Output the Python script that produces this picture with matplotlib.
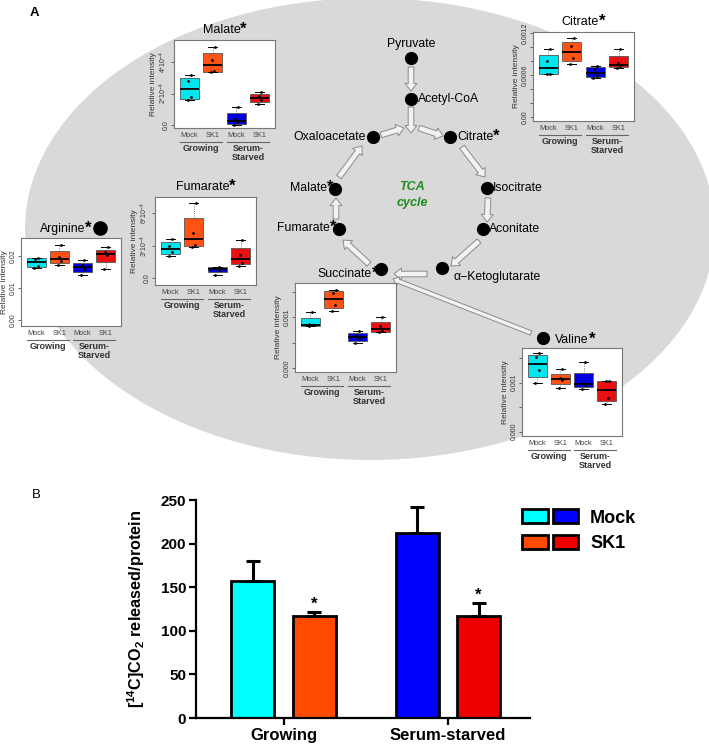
import matplotlib
matplotlib.use('Agg')
import matplotlib.pyplot as plt
import numpy as np
from matplotlib import font_manager
from matplotlib.patches import Ellipse, FancyArrowPatch, Patch
from matplotlib.legend_handler import HandlerTuple

installed = {f.name for f in font_manager.fontManager.ttflist}
narrow = 'Liberation Sans Narrow' if 'Liberation Sans Narrow' in installed else 'Liberation Sans'

plt.rcParams['font.family'] = ['Liberation Sans', 'DejaVu Sans']
plt.rcParams['mathtext.fontset'] = 'custom'
plt.rcParams['mathtext.rm'] = 'Liberation Sans'
plt.rcParams['mathtext.it'] = 'Liberation Sans:italic'
plt.rcParams['mathtext.bf'] = narrow + ':bold'

W, H = 709, 745

# ---- panel A: relative intensity, four replicates per group ----
groups = ['Mock', 'SK1', 'Mock', 'SK1']
conditions = ['Growing', 'Serum-\nStarved']
box_colors = ['#00E5EE', '#FF5214', '#0000DD', '#E81010']

malate = np.array([[1.57, 1.75, 2.80, 3.19],
                   [3.34, 3.44, 4.13, 4.97],
                   [0.00, 0.18, 0.38, 1.12],
                   [1.35, 1.62, 1.82, 2.10]]) * 1e-4
citrate = np.array([[6.1, 6.1, 8.0, 9.7],
                    [7.6, 8.4, 10.2, 11.3],
                    [5.5, 5.8, 6.9, 7.3],
                    [7.0, 7.3, 7.7, 9.8]]) * 1e-4
fumarate = np.array([[2.05, 2.41, 3.00, 3.67],
                     [2.94, 3.06, 4.20, 6.97],
                     [0.32, 0.80, 0.95, 1.09],
                     [1.15, 1.47, 2.17, 3.55]]) * 1e-4
arginine = np.array([[1.61, 1.69, 1.90, 1.95],
                     [1.71, 1.83, 1.96, 2.34],
                     [1.40, 1.60, 1.72, 1.86],
                     [1.58, 2.02, 2.12, 2.27]]) * 1e-2
succinate = np.array([[0.82, 0.84, 0.87, 1.10],
                      [1.13, 1.23, 1.47, 1.54],
                      [0.49, 0.59, 0.65, 0.73],
                      [0.71, 0.73, 0.82, 1.01]]) * 1e-3
valine = np.array([[0.99, 1.26, 1.52, 1.60],
                   [0.89, 1.05, 1.09, 1.28],
                   [0.87, 0.95, 0.99, 1.42],
                   [0.57, 0.69, 1.03, 1.03]]) * 1e-3

# ---- panel B: CO2 release ----
conds_b = ['Growing', 'Serum-starved']
mock_co2 = [157, 212]
mock_err = [23, 30]
sk1_co2 = [117, 117]
sk1_err = [5, 15]
mock_colors = ['#00FFFF', '#0000FF']
sk1_colors = ['#FF4A00', '#EE0000']


def fivenum(v):
    # Tukey hinges, as R's boxplot uses
    v = np.sort(v)
    n = len(v)
    n4 = np.floor((n + 3) / 2) / 2
    d = np.array([1, n4, (n + 1) / 2, n + 1 - n4, n]) - 1
    return 0.5 * (v[np.floor(d).astype(int)] + v[np.ceil(d).astype(int)])


def px_axes(x0, y0, x1, y1):
    return fig.add_axes([x0 / W, 1 - y1 / H, (x1 - x0) / W, (y1 - y0) / H])


def add_star(ax, t, size=12):
    ax.annotate('*', xy=(1.0, 0.2), xycoords=t, ha='left', va='baseline',
                fontsize=size, fontweight='bold')


def box_panel(rect, data, ylim, ticks, ticklabels, title=None):
    x0, y0, x1, y1 = rect
    h = y1 - y0
    ax = px_axes(*rect)
    stats = []
    for v in data:
        lo, q1, med, q3, hi = fivenum(v)
        stats.append(dict(whislo=lo, q1=q1, med=med, q3=q3, whishi=hi, fliers=[]))
    bp = ax.bxp(stats, positions=[1, 2, 3, 4], widths=0.8, patch_artist=True,
                showfliers=False, capwidths=0.4,
                boxprops=dict(edgecolor='#555555', linewidth=0.6),
                medianprops=dict(color='black', linewidth=1.3),
                whiskerprops=dict(color='#555555', linewidth=0.6, linestyle=':'),
                capprops=dict(color='black', linewidth=0.7))
    for patch, c in zip(bp['boxes'], box_colors):
        patch.set_facecolor(c)
    jitter = [-0.08, 0.06, -0.04, 0.08]
    for i, v in enumerate(data):
        ax.scatter(np.full(len(v), i + 1.0) + jitter[:len(v)], v, s=4,
                   color='black', zorder=4, linewidths=0)
    ax.set_xlim(0.34, 4.66)
    ax.set_ylim(*ylim)
    ax.set_xticks([])
    ax.set_yticks(ticks)
    ax.set_yticklabels(ticklabels)
    ax.tick_params(axis='y', labelsize=5, length=2.5, width=0.5, pad=0.8,
                   labelrotation=90, colors='#333333')
    for lab in ax.get_yticklabels():
        lab.set_va('center')
    for s in ax.spines.values():
        s.set_color('#777777')
        s.set_linewidth(0.8)
    ax.set_ylabel('Relative intensity', fontsize=6, labelpad=1, color='#333333')
    for i, g in enumerate(groups):
        ax.annotate(g, xy=(i + 1, 0), xycoords=('data', 'axes fraction'),
                    xytext=(0, -7.5), textcoords='offset pixels', ha='center',
                    va='center', fontsize=5.3, color='#444444')
    for k, c in enumerate(conditions):
        ax.plot([0.6 + 2 * k, 2.4 + 2 * k], [-13.5 / h] * 2, color='#666666',
                lw=0.8, transform=ax.get_xaxis_transform(), clip_on=False)
        ax.annotate(c, xy=(1.5 + 2 * k, 0), xycoords=('data', 'axes fraction'),
                    xytext=(0, -16), textcoords='offset pixels', ha='center',
                    va='top', fontsize=6.5, fontweight='bold', color='#333333',
                    linespacing=1.05)
    if title:
        t = ax.text(0.47, 1 + 10 / h, title, transform=ax.transAxes,
                    ha='center', va='center', fontsize=9)
        add_star(ax, t)
    return ax


fig = plt.figure(figsize=(W / 100, H / 100), dpi=100)

# ---- background diagram (pixel coordinates) ----
bg = fig.add_axes([0, 0, 1, 1])
bg.set_xlim(0, W)
bg.set_ylim(H, 0)
bg.axis('off')
bg.add_patch(Ellipse((370, 229), 690, 462, fc='#d9d9d9', ec='none'))
bg.text(30, 13, 'A', fontsize=9.5, fontweight='bold', va='center')
bg.text(32, 495, 'B', fontsize=9.5, va='center')


def block_arrow(p0, p1, scale=9):
    bg.add_patch(FancyArrowPatch(
        p0, p1, arrowstyle='simple,head_length=0.6,head_width=0.95,tail_width=0.45',
        mutation_scale=scale, fc='#f2f2f2', ec='#8a8a8a', lw=0.7,
        shrinkA=0, shrinkB=0))


arrows = [((411, 67), (411, 91)), ((411, 107), (411, 133)),
          ((381, 135), (404, 128)), ((419, 128), (443, 136)),
          ((462, 147), (485, 177)), ((488, 198), (487, 222)),
          ((479, 241), (451, 266)), ((427, 274), (394, 274)),
          ((369, 264), (343, 240)), ((336, 219), (336, 198)),
          ((339, 177), (362, 146))]
for p0, p1 in arrows:
    block_arrow(p0, p1)
block_arrow((531, 333), (393, 279), scale=7)

nodes = {'Pyruvate': (411, 58), 'Acetyl-CoA': (411, 99), 'Oxaloacetate': (373, 137),
         'Citrate': (450, 137), 'Isocitrate': (487, 188), 'Aconitate': (483, 229),
         'aKG': (442, 268), 'Succinate': (381, 269), 'Fumarate': (339, 229),
         'Malate': (335, 189), 'Arginine': (100, 228), 'Valine': (543, 338)}
for name, (x, y) in nodes.items():
    bg.plot(x, y, 'o', color='black', ms=8.5 if name != 'Arginine' else 9.5, zorder=3)

fs = 8.8
bg.text(411, 44, 'Pyruvate', ha='center', va='center', fontsize=fs)
bg.text(418, 99, 'Acetyl-CoA', ha='left', va='center', fontsize=fs)
bg.text(366, 137, 'Oxaloacetate', ha='right', va='center', fontsize=fs)
add_star(bg, bg.text(457, 137, 'Citrate', ha='left', va='center', fontsize=fs))
bg.text(493, 188, 'Isocitrate', ha='left', va='center', fontsize=fs)
bg.text(489, 229, 'Aconitate', ha='left', va='center', fontsize=fs)
bg.text(453, 277, '\u03b1\u2212Ketoglutarate', ha='left', va='center', fontsize=fs)
add_star(bg, bg.text(372, 274, 'Succinate', ha='right', va='center', fontsize=fs))
add_star(bg, bg.text(330, 228, 'Fumarate', ha='right', va='center', fontsize=fs))
add_star(bg, bg.text(327, 188, 'Malate', ha='right', va='center', fontsize=fs))
add_star(bg, bg.text(85, 229, 'Arginine', ha='right', va='center', fontsize=fs))
add_star(bg, bg.text(555, 340, 'Valine', ha='left', va='center', fontsize=fs))
bg.text(412, 187, 'TCA', ha='center', va='center', fontsize=9, color='#1E8C1E',
        fontweight='bold', fontstyle='italic')
bg.text(412, 203, 'cycle', ha='center', va='center', fontsize=9, color='#1E8C1E',
        fontweight='bold', fontstyle='italic')

# ---- box plot insets ----
box_panel((174, 40, 275, 128), malate, (-0.19e-4, 5.40e-4), [0, 2e-4, 4e-4],
          ['0.0', r'2*10$^{-4}$', r'4*10$^{-4}$'], title='Malate')
box_panel((533, 32, 634, 121), citrate, (-0.62e-4, 12.19e-4),
          np.arange(0, 13, 2) * 1e-4, ['0.00', '', '', '0.0006', '', '', '0.0012'],
          title='Citrate')
box_panel((155, 197, 256, 285), fumarate, (-0.6e-4, 7.52e-4), [0, 3e-4, 6e-4],
          ['0.0', r'3*10$^{-4}$', r'6*10$^{-4}$'], title='Fumarate')
box_panel((21, 238, 121, 326), arginine, (-0.0019, 0.0256), [0, 0.01, 0.02],
          ['0.00', '0.01', '0.02'])
box_panel((295, 283, 396, 372), succinate, (-0.073e-3, 1.67e-3),
          [0, 0.5e-3, 1e-3, 1.5e-3], ['0.000', '', '0.001', ''])
box_panel((522, 348, 622, 436), valine, (-0.088e-3, 1.71e-3),
          [0, 0.5e-3, 1e-3, 1.5e-3], ['0.000', '', '0.001', ''])

# ---- panel B bar chart ----
axb = px_axes(196, 500, 530, 718)
x = np.arange(len(conds_b))
off, bw = 0.187, 0.262
ekw = dict(elinewidth=2.2, capsize=5, capthick=2.2, ecolor='black')
axb.bar(x - off, mock_co2, bw, yerr=[[0] * 2, mock_err], color=mock_colors,
        edgecolor='black', linewidth=2, error_kw=ekw)
axb.bar(x + off, sk1_co2, bw, yerr=[[0] * 2, sk1_err], color=sk1_colors,
        edgecolor='black', linewidth=2, error_kw=ekw)
for xi, v, e in zip(x + off, sk1_co2, sk1_err):
    axb.annotate('*', xy=(xi, v + e), xytext=(0, 0), textcoords='offset points',
                 ha='center', va='bottom', fontsize=12, fontweight='bold')
axb.set_xlim(-0.533, 1.5)
axb.set_ylim(0, 250)
axb.set_yticks(np.arange(0, 251, 50))
axb.set_xticks(x)
axb.set_xticklabels(conds_b)
for lab in axb.get_xticklabels():
    lab.set_fontsize(12)
    lab.set_fontweight('bold')
    lab.set_family(narrow)
for lab in axb.get_yticklabels():
    lab.set_fontsize(11)
    lab.set_fontweight('bold')
    lab.set_family(narrow)
axb.spines['top'].set_visible(False)
axb.spines['right'].set_visible(False)
for s in ['left', 'bottom']:
    axb.spines[s].set_linewidth(1.6)
axb.tick_params(width=1.6, length=5, pad=2)
axb.set_ylabel(r'[$^{\mathbf{14}}$C]CO$_{\mathbf{2}}$ released/protein',
               fontsize=11.7, fontweight='bold', family=narrow, labelpad=10)

handles = [(Patch(fc=mock_colors[0], ec='black', lw=2), Patch(fc=mock_colors[1], ec='black', lw=2)),
           (Patch(fc=sk1_colors[0], ec='black', lw=2), Patch(fc=sk1_colors[1], ec='black', lw=2))]
axb.legend(handles, ['Mock', 'SK1'], handler_map={tuple: HandlerTuple(ndivide=None, pad=0.3)},
           loc='upper left', bbox_to_anchor=(517 / W, 1 - 504 / H),
           bbox_transform=fig.transFigure, frameon=False,
           prop=dict(weight='bold', size=13, family=narrow), handlelength=3.1,
           handleheight=0.8, handletextpad=0.65, labelspacing=0.45,
           borderaxespad=0, borderpad=0.3)

fig.savefig('out.png', dpi=100)
